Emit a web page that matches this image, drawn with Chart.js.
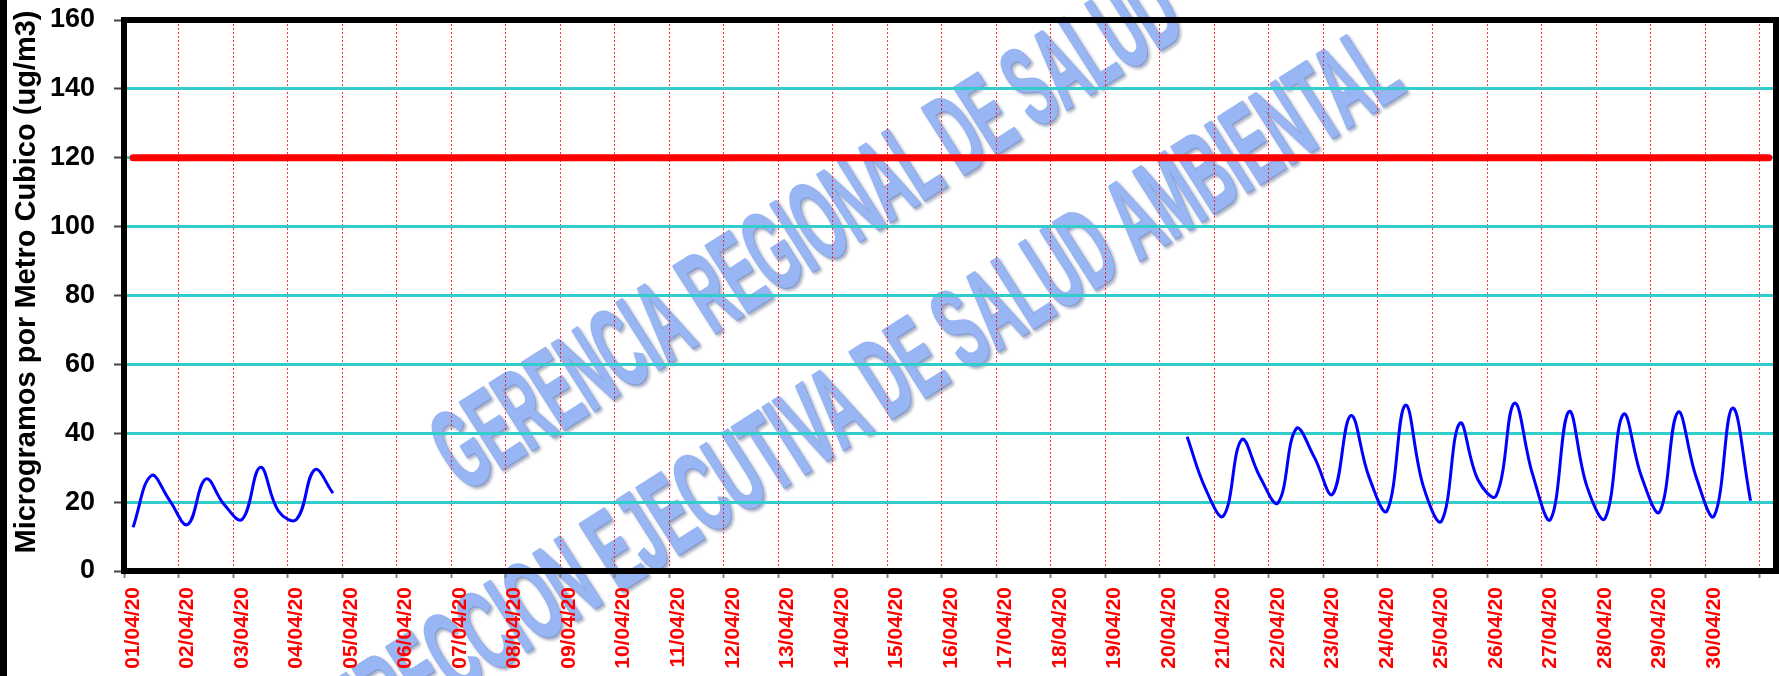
<!DOCTYPE html>
<html lang="es">
<head>
<meta charset="utf-8">
<title>PM10 - Abril 2020</title>
<script src="https://cdn.jsdelivr.net/npm/chart.js@4.4.1/dist/chart.umd.min.js"></script>
<style>
  html, body { margin: 0; padding: 0; background: #fff; }
  #grafico { display: block; }
</style>
</head>
<body>
<canvas id="grafico" width="1779" height="676"></canvas>
<script>
// --- DATOS ---
const fechas = [
  '01/04/20', '02/04/20', '03/04/20', '04/04/20', '05/04/20', '06/04/20',
  '07/04/20', '08/04/20', '09/04/20', '10/04/20', '11/04/20', '12/04/20',
  '13/04/20', '14/04/20', '15/04/20', '16/04/20', '17/04/20', '18/04/20',
  '19/04/20', '20/04/20', '21/04/20', '22/04/20', '23/04/20', '24/04/20',
  '25/04/20', '26/04/20', '27/04/20', '28/04/20', '29/04/20', '30/04/20'
];

// hora de cada lectura del dia
const horas = [4, 12, 20];

// PM10 en ug/m3, tres lecturas por dia (null = sin dato)
const pm10 = [
  [12.7, 27.7, 20.6],   // 01/04
  [13.5, 26.7, 19.4],
  [15.0, 30.1, 17.4],
  [15.0, 29.4, 22.6],   // 04/04
  [null, null, null],   // 05/04
  [null, null, null],
  [null, null, null],
  [null, null, null],
  [null, null, null],
  [null, null, null],
  [null, null, null],
  [null, null, null],
  [null, null, null],
  [null, null, null],
  [null, null, null],
  [null, null, null],
  [null, null, null],
  [null, null, null],
  [null, null, null],   // 19/04
  [null, 39.0, 24.0],   // 20/04
  [16.0, 38.1, 27.4],
  [19.8, 41.3, 33.0],
  [22.3, 45.1, 27.4],
  [17.5, 48.1, 24.5],
  [14.5, 42.9, 26.5],   // 25/04
  [21.8, 48.7, 28.2],
  [15.0, 46.3, 24.5],
  [15.3, 45.5, 27.4],
  [17.2, 46.1, 27.4],
  [16.0, 47.3, 20.4]    // 30/04
];

// estandar de calidad (ug/m3)
const limite = 120;

const ticksY = [0, 20, 40, 60, 80, 100, 120, 140, 160];

// --- ARMADO DE SERIES ---
const puntos = [];
pm10.forEach((dia, i) => {
  dia.forEach((v, j) => puntos.push({ x: i + horas[j] / 24, y: v }));
});

const lineaLimite = [
  { x: horas[0] / 24, y: limite },
  { x: fechas.length + horas[0] / 24, y: limite }
];

const FUENTE = '"Liberation Sans", Arial, Helvetica, sans-serif';

// marca de agua inclinada
function marcaAgua(ctx, texto, cx, cy, ang, size, em) {
  ctx.save();
  ctx.translate(cx, cy);
  ctx.rotate(ang * Math.PI / 180);
  ctx.font = 'bold ' + size + 'px ' + FUENTE;
  ctx.scale(em / size, 1);
  ctx.textAlign = 'center';
  ctx.textBaseline = 'middle';
  ctx.shadowColor = 'rgba(110, 120, 150, 0.45)';
  ctx.shadowOffsetX = 2;
  ctx.shadowOffsetY = 2;
  ctx.shadowBlur = 3;
  ctx.fillStyle = '#98b6f3';
  ctx.strokeStyle = '#98b6f3';
  ctx.lineWidth = 3;
  ctx.lineJoin = 'round';
  ctx.strokeText(texto, 0, 0);
  ctx.fillText(texto, 0, 0);
  ctx.restore();
}

const decorado = {
  id: 'decorado',
  beforeDraw(chart) {
    const ctx = chart.ctx;
    ctx.save();
    ctx.fillStyle = '#fff';
    ctx.fillRect(0, 0, chart.width, chart.height);
    ctx.restore();
    marcaAgua(ctx, 'GERENCIA REGIONAL DE SALUD', 810, 236, -32.5, 115, 53);
    marcaAgua(ctx, 'DIRECCION EJECUTIVA DE SALUD AMBIENTAL', 860, 402, -32.5, 115, 55);
  },
  afterDraw(chart) {
    const { ctx, chartArea: a } = chart;
    ctx.save();
    // marco del area de trazado
    ctx.lineWidth = 6;
    ctx.strokeStyle = '#000';
    ctx.strokeRect(a.left, a.top, a.right - a.left, a.bottom - a.top);
    // borde izquierdo de la imagen
    ctx.fillStyle = '#000';
    ctx.fillRect(0, 0, 7, chart.height);
    // titulo del eje Y
    ctx.translate(27, 282);
    ctx.rotate(-Math.PI / 2);
    ctx.font = 'bold 29px ' + FUENTE;
    ctx.textAlign = 'center';
    ctx.textBaseline = 'middle';
    ctx.fillText('Microgramos por Metro Cubico (ug/m3)', 0, 0);
    ctx.restore();
  }
};

new Chart(document.getElementById('grafico'), {
  type: 'line',
  data: {
    datasets: [
      {
        label: 'PM10',
        data: puntos,
        borderColor: '#0000ff',
        borderWidth: 3,
        pointRadius: 0,
        tension: 0.4,
        spanGaps: false,
        fill: false
      },
      {
        label: 'Limite',
        data: lineaLimite,
        borderColor: '#ff0000',
        borderWidth: 7,
        borderCapStyle: 'round',
        pointRadius: 0,
        fill: false
      }
    ]
  },
  options: {
    responsive: false,
    animation: false,
    devicePixelRatio: 1,
    layout: { padding: { top: 20, right: 3, left: 0, bottom: 0 } },
    plugins: {
      legend: { display: false },
      tooltip: { enabled: false }
    },
    scales: {
      x: {
        type: 'linear',
        min: 0,
        max: 30.3,
        afterBuildTicks: (s) => {
          s.ticks = fechas.map((f, i) => ({ value: i })).concat([{ value: fechas.length }]);
        },
        afterFit: (s) => {
          s.height = 105;
          s.paddingLeft = 0;
          s.paddingRight = 0;
        },
        ticks: {
          autoSkip: false,
          includeBounds: false,
          minRotation: 90,
          maxRotation: 90,
          padding: 9,
          labelOffset: 9,
          color: '#ff0000',
          font: { family: FUENTE, weight: 'bold', size: 21 },
          callback: (v) => fechas[v] || ''
        },
        grid: {
          color: 'rgba(255, 0, 0, 0.8)',
          lineWidth: 1,
          borderDash: [2, 2],
          tickColor: '#808080',
          tickLength: 7,
          tickWidth: 2
        },
        border: { display: false, dash: [2, 2] }
      },
      y: {
        min: 0,
        max: 160,
        afterBuildTicks: (s) => {
          s.ticks = ticksY.map(v => ({ value: v }));
        },
        afterFit: (s) => {
          s.width = 124;
          s.paddingTop = 0;
          s.paddingBottom = 0;
        },
        ticks: {
          padding: 19,
          color: '#000',
          font: { family: FUENTE, weight: 'bold', size: 27 }
        },
        grid: {
          color: '#33cccc',
          lineWidth: 3,
          tickColor: '#444',
          tickLength: 10,
          tickWidth: 2
        },
        border: { display: false }
      }
    }
  },
  plugins: [decorado]
});
</script>
</body>
</html>
